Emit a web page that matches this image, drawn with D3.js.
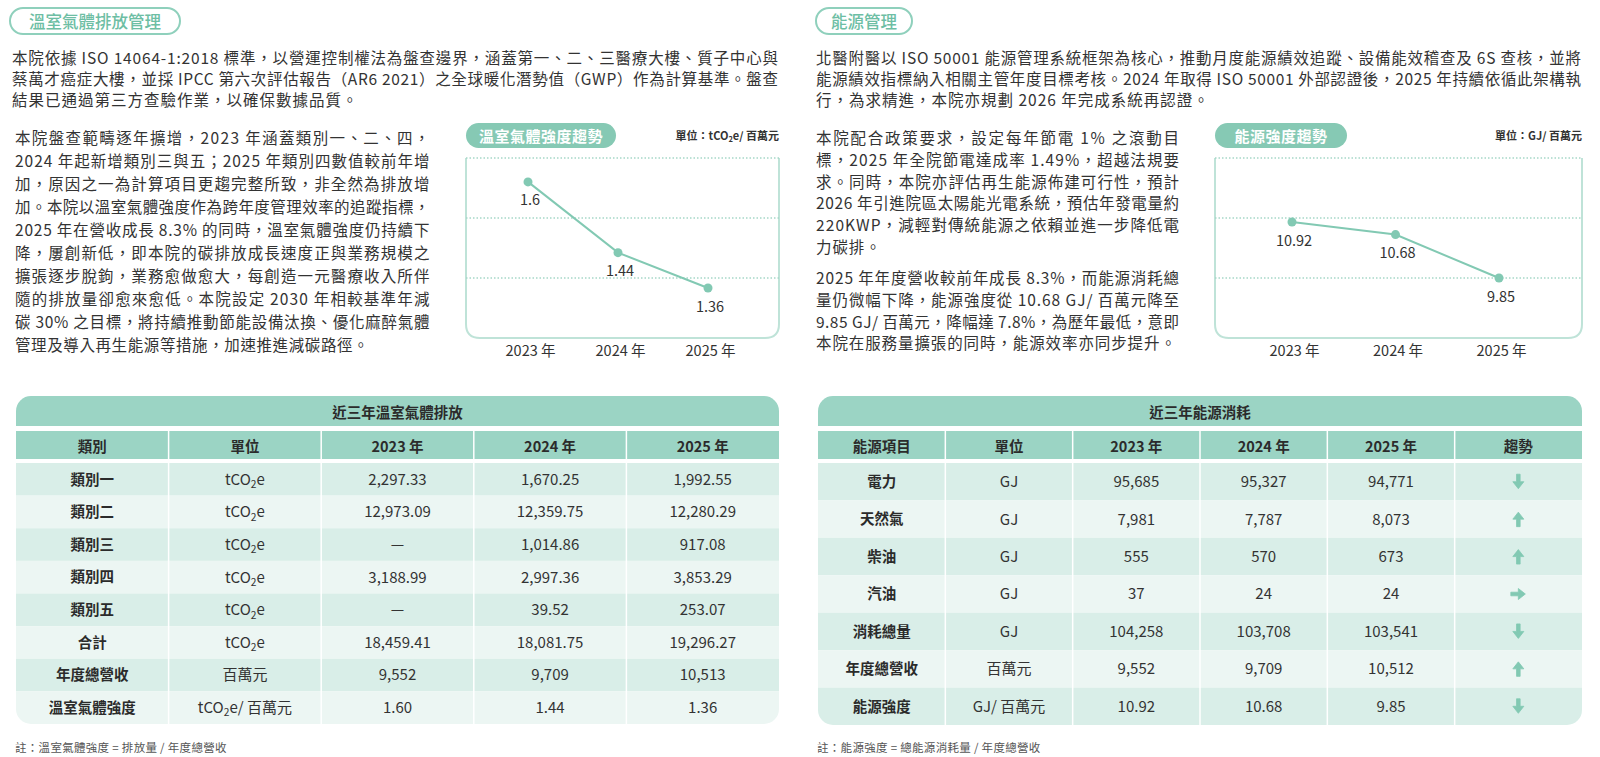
<!DOCTYPE html>
<html>
<head>
<meta charset="utf-8">
<script src="https://cdn.jsdelivr.net/npm/d3@7"></script>
<style>
  body { margin: 0; background: #fff; }
  svg { display: block; font-family: "Noto Sans CJK TC", "Noto Sans", sans-serif; }
</style>
</head>
<body>
<div id="page"></div>
<script>
// ---- data ----
const years = ["2023 年", "2024 年", "2025 年"];
const ghgIntensity = [1.6, 1.44, 1.36];
const energyIntensity = [10.92, 10.68, 9.85];

const ghgCols = ["類別", "單位", "2023 年", "2024 年", "2025 年"];
const ghgCats = ["類別一", "類別二", "類別三", "類別四", "類別五", "合計", "年度總營收", "溫室氣體強度"];
const ghgUnits = ["tCO₂e", "tCO₂e", "tCO₂e", "tCO₂e", "tCO₂e", "tCO₂e", "百萬元", "tCO₂e/ 百萬元"];
const ghg2023 = [2297.33, 12973.09, null, 3188.99, null, 18459.41, 9552, 1.60];
const ghg2024 = [1670.25, 12359.75, 1014.86, 2997.36, 39.52, 18081.75, 9709, 1.44];
const ghg2025 = [1992.55, 12280.29, 917.08, 3853.29, 253.07, 19296.27, 10513, 1.36];
const ghgFormats = [",.2f", ",.2f", ",.2f", ",.2f", ",.2f", ",.2f", ",", ".2f"];

const enCols = ["能源項目", "單位", "2023 年", "2024 年", "2025 年", "趨勢"];
const enItems = ["電力", "天然氣", "柴油", "汽油", "消耗總量", "年度總營收", "能源強度"];
const enUnits = ["GJ", "GJ", "GJ", "GJ", "GJ", "百萬元", "GJ/ 百萬元"];
const en2023 = [95685, 7981, 555, 37, 104258, 9552, 10.92];
const en2024 = [95327, 7787, 570, 24, 103708, 9709, 10.68];
const en2025 = [94771, 8073, 673, 24, 103541, 10512, 9.85];
const enFormats = [",", ",", ",", ",", ",", ",", ".2f"];

const leftIntro = [
  "本院依據 ISO 14064-1:2018 標準，以營運控制權法為盤查邊界，涵蓋第一、二、三醫療大樓、質子中心與",
  "蔡萬才癌症大樓，並採 IPCC 第六次評估報告（AR6 2021）之全球暖化潛勢值（GWP）作為計算基準。盤查",
  "結果已通過第三方查驗作業，以確保數據品質。"
];
const leftBody = [
  "本院盤查範疇逐年擴增，2023 年涵蓋類別一、二、四，",
  "2024 年起新增類別三與五；2025 年類別四數值較前年增",
  "加，原因之一為計算項目更趨完整所致，非全然為排放增",
  "加。本院以溫室氣體強度作為跨年度管理效率的追蹤指標，",
  "2025 年在營收成長 8.3% 的同時，溫室氣體強度仍持續下",
  "降，屢創新低，即本院的碳排放成長速度正與業務規模之",
  "擴張逐步脫鉤，業務愈做愈大，每創造一元醫療收入所伴",
  "隨的排放量卻愈來愈低。本院設定 2030 年相較基準年減",
  "碳 30% 之目標，將持續推動節能設備汰換、優化麻醉氣體",
  "管理及導入再生能源等措施，加速推進減碳路徑。"
];
const rightIntro = [
  "北醫附醫以 ISO 50001 能源管理系統框架為核心，推動月度能源績效追蹤、設備能效稽查及 6S 查核，並將",
  "能源績效指標納入相關主管年度目標考核。2024 年取得 ISO 50001 外部認證後，2025 年持續依循此架構執",
  "行，為求精進，本院亦規劃 2026 年完成系統再認證。"
];
const rightBodyA = [
  "本院配合政策要求，設定每年節電 1% 之滾動目",
  "標，2025 年全院節電達成率 1.49%，超越法規要",
  "求。同時，本院亦評估再生能源佈建可行性，預計",
  "2026 年引進院區太陽能光電系統，預估年發電量約",
  "220KWP，減輕對傳統能源之依賴並進一步降低電",
  "力碳排。"
];
const rightBodyB = [
  "2025 年年度營收較前年成長 8.3%，而能源消耗總",
  "量仍微幅下降，能源強度從 10.68 GJ/ 百萬元降至",
  "9.85 GJ/ 百萬元，降幅達 7.8%，為歷年最低，意即",
  "本院在服務量擴張的同時，能源效率亦同步提升。"
];

// ---- styles ----
const teal = "#82c9b3";
const tealHead = "#9bd4c4";
const rowDark = "#d9eee8";
const rowLight = "#ecf6f3";
const textColor = "#333";

const svg = d3.select("#page").append("svg")
    .attr("width", 1600)
    .attr("height", 757);

// text centred on cy, with CO₂ subscript support
function richText(sel, str, cy, size) {
  sel.attr("y", cy + size * 0.36);
  const parts = str.split("₂");
  parts.forEach((p, i) => {
    if (i > 0) {
      sel.append("tspan").attr("font-size", size * 0.68).attr("dy", size * 0.22).text("2");
      sel.append("tspan").attr("dy", -size * 0.22).text(p);
    } else {
      sel.append("tspan").text(p);
    }
  });
  return sel;
}

function headingPill(x, y, w, h, label) {
  const g = svg.append("g");
  g.append("rect")
      .attr("x", x).attr("y", y).attr("width", w).attr("height", h)
      .attr("rx", h / 2)
      .attr("fill", "#fff")
      .attr("stroke", "#8fd0bc")
      .attr("stroke-width", 2);
  g.append("text")
      .attr("x", x + w / 2).attr("y", y + h / 2)
      .attr("text-anchor", "middle")
      .attr("dominant-baseline", "central")
      .attr("font-size", 16.5)
      .attr("font-weight", 500)
      .attr("fill", "#6dbea4")
      .text(label);
}

function paragraph(lines, x0, x1, y0, lh, size, spacing) {
  const g = svg.append("g");
  lines.forEach((line, i) => {
    const t = g.append("text")
        .attr("x", x0)
        .attr("y", y0 + i * lh)
        .attr("dominant-baseline", "central")
        .attr("font-size", size)
        .attr("letter-spacing", spacing)
        .attr("fill", textColor)
        .text(line);
    if (i < lines.length - 1) {
      t.attr("textLength", x1 - x0).attr("lengthAdjust", "spacing");
    }
  });
}

headingPill(10, 8, 170, 26, "溫室氣體排放管理");
headingPill(816, 8, 96, 26, "能源管理");

paragraph(leftIntro, 12, 779, 57, 21, 15.5, 1);
paragraph(rightIntro, 816, 1582, 57, 21, 15.5, 1);
paragraph(leftBody, 15, 430, 137, 23, 15.5, 0.6);
paragraph(rightBodyA, 816, 1180, 137, 21.8, 15.5, 0.9);
paragraph(rightBodyB, 816, 1180, 277, 21.8, 15.5, 0.9);

// ---- trend charts ----
function trendChart(cfg) {
  const g = svg.append("g");
  const top = 158, bottom = 338, r = 14;

  // title pill
  g.append("rect")
      .attr("x", cfg.x0).attr("y", 123)
      .attr("width", cfg.pillW).attr("height", 25)
      .attr("rx", 12.5)
      .attr("fill", "#86c9b4");
  g.append("text")
      .attr("x", cfg.x0 + cfg.pillW / 2).attr("y", 135.5)
      .attr("text-anchor", "middle")
      .attr("dominant-baseline", "central")
      .attr("font-size", 15)
      .attr("font-weight", 700)
      .attr("letter-spacing", 0.5)
      .attr("fill", "#fff")
      .text(cfg.title);

  richText(g.append("text")
      .attr("x", cfg.x1)
      .attr("text-anchor", "end")
      .attr("font-size", 11)
      .attr("font-weight", 700)
      .attr("fill", textColor), cfg.unit, 136, 11);

  // frame: open top, rounded bottom
  g.append("path")
      .attr("d", `M${cfg.x0},${top} V${bottom - r} Q${cfg.x0},${bottom} ${cfg.x0 + r},${bottom} H${cfg.x1 - r} Q${cfg.x1},${bottom} ${cfg.x1},${bottom - r} V${top}`)
      .attr("fill", "none")
      .attr("stroke", "#bfe3d8")
      .attr("stroke-width", 2);

  // dotted grid
  const gridY = d3.range(3).map(i => top + i * (bottom - top) / 3);
  g.selectAll(".grid").data(gridY).enter().append("line")
      .attr("class", "grid")
      .attr("x1", cfg.x0).attr("x2", cfg.x1)
      .attr("y1", d => d).attr("y2", d => d)
      .attr("stroke", "#a6d8c8")
      .attr("stroke-width", 1.5)
      .attr("stroke-dasharray", "1.5,2");

  const x = d3.scalePoint().domain(years).range(cfg.xRange);
  const y = d3.scaleLinear().domain(cfg.yDomain).range([bottom, top]);

  const pts = years.map((yr, i) => ({ year: yr, value: cfg.values[i] }));

  g.append("path")
      .datum(pts)
      .attr("fill", "none")
      .attr("stroke", teal)
      .attr("stroke-width", 2)
      .attr("d", d3.line().x(d => x(d.year)).y(d => y(d.value)));

  g.selectAll(".pt").data(pts).enter().append("circle")
      .attr("class", "pt")
      .attr("cx", d => x(d.year))
      .attr("cy", d => y(d.value))
      .attr("r", 4.5)
      .attr("fill", teal);

  g.selectAll(".lbl").data(pts).enter().append("text")
      .attr("class", "lbl")
      .attr("x", d => x(d.year) + 2)
      .attr("y", d => y(d.value) + 17)
      .attr("text-anchor", "middle")
      .attr("dominant-baseline", "central")
      .attr("font-size", 14.5)
      .attr("fill", textColor)
      .text(d => cfg.labelFmt(d.value));

  const axis = d3.axisBottom(x).tickSize(0).tickPadding(0);
  const ax = g.append("g")
      .attr("transform", `translate(${cfg.xLabelShift},346)`)
      .call(axis);
  ax.select(".domain").remove();
  ax.selectAll("text")
      .attr("font-size", 14.5)
      .attr("font-family", "Noto Sans CJK TC, Noto Sans, sans-serif")
      .attr("fill", textColor);
}

trendChart({
  x0: 466, x1: 779, pillW: 150,
  title: "溫室氣體強度趨勢",
  unit: "單位：tCO₂e/ 百萬元",
  values: ghgIntensity,
  xRange: [528, 708],
  xLabelShift: 2,
  yDomain: [1.247, 1.654],
  labelFmt: d => String(d)
});

trendChart({
  x0: 1215, x1: 1582, pillW: 132,
  title: "能源強度趨勢",
  unit: "單位：GJ/ 百萬元",
  values: energyIntensity,
  xRange: [1292, 1499],
  xLabelShift: 2,
  yDomain: [8.703, 12.144],
  labelFmt: d => d3.format(".2f")(d)
});

// ---- tables ----
function dataTable(cfg) {
  const g = svg.append("g");
  const top = 396, bandH = 30, headTop = 431, headH = 28, rowTop = 463;
  const nRows = cfg.rows.length;

  const clipId = "clip-" + cfg.id;
  g.append("clipPath").attr("id", clipId)
    .append("rect")
      .attr("x", cfg.x0).attr("y", top)
      .attr("width", cfg.x1 - cfg.x0).attr("height", cfg.bottom - top)
      .attr("rx", 15);

  const body = g.append("g").attr("clip-path", `url(#${clipId})`);

  const xs = d3.scaleBand().domain(d3.range(cfg.cols.length)).range([cfg.x0, cfg.x1]);
  const ys = d3.scaleBand().domain(d3.range(nRows)).range([rowTop, cfg.bottom]);

  body.append("rect")
      .attr("x", cfg.x0).attr("y", top)
      .attr("width", cfg.x1 - cfg.x0).attr("height", bandH)
      .attr("fill", tealHead);
  body.append("rect")
      .attr("x", cfg.x0).attr("y", headTop)
      .attr("width", cfg.x1 - cfg.x0).attr("height", headH)
      .attr("fill", tealHead);

  body.selectAll(".row").data(cfg.rows).enter().append("rect")
      .attr("class", "row")
      .attr("x", cfg.x0)
      .attr("y", (d, i) => ys(i))
      .attr("width", cfg.x1 - cfg.x0)
      .attr("height", ys.bandwidth())
      .attr("fill", (d, i) => i % 2 === 0 ? rowDark : rowLight);

  // white column dividers
  body.selectAll(".div").data(d3.range(1, cfg.cols.length)).enter().append("line")
      .attr("class", "div")
      .attr("x1", d => xs(d)).attr("x2", d => xs(d))
      .attr("y1", headTop).attr("y2", cfg.bottom)
      .attr("stroke", "#fff")
      .attr("stroke-width", 1.5);

  g.append("text")
      .attr("x", (cfg.x0 + cfg.x1) / 2).attr("y", top + bandH / 2)
      .attr("text-anchor", "middle")
      .attr("dominant-baseline", "central")
      .attr("font-size", 14.5)
      .attr("font-weight", 700)
      .attr("fill", "#2b2b2b")
      .text(cfg.title);

  g.selectAll(".colh").data(cfg.cols).enter().append("text")
      .attr("class", "colh")
      .attr("x", (d, i) => xs(i) + xs.bandwidth() / 2)
      .attr("y", headTop + headH / 2)
      .attr("text-anchor", "middle")
      .attr("dominant-baseline", "central")
      .attr("font-size", 14.5)
      .attr("font-weight", 700)
      .attr("fill", "#2b2b2b")
      .text(d => d);

  cfg.rows.forEach((row, ri) => {
    const cy = ys(ri) + ys.bandwidth() / 2;
    row.forEach((cell, ci) => {
      if (cell === null || cell === undefined) return;
      if (cell.arrow) {
        const cx = xs(ci) + xs.bandwidth() / 2;
        const rot = cell.arrow === "down" ? 0 : cell.arrow === "up" ? 180 : -90;
        g.append("path")
            .attr("transform", `translate(${cx},${cy}) rotate(${rot})`)
            .attr("d", "M-1.8,-7.5 H1.8 V0 H5.5 L0,7 L-5.5,0 H-1.8 Z")
            .attr("fill", teal)
            .attr("stroke", teal)
            .attr("stroke-width", 0.8)
            .attr("stroke-linejoin", "round");
        return;
      }
      const size = ci === 0 ? 14.5 : 15;
      richText(g.append("text")
          .attr("x", xs(ci) + xs.bandwidth() / 2)
          .attr("text-anchor", "middle")
          .attr("font-size", size)
          .attr("font-weight", ci === 0 ? 700 : 400)
          .attr("fill", ci === 0 ? "#2b2b2b" : textColor), cell, cy, size);
    });
  });

  g.append("text")
      .attr("x", cfg.x0 - 1).attr("y", 747)
      .attr("dominant-baseline", "central")
      .attr("font-size", 11.5)
      .attr("letter-spacing", 0.3)
      .attr("fill", "#555")
      .text(cfg.note);
}

const fmtVal = (v, f) => v === null ? "—" : d3.format(f)(v);

dataTable({
  id: "ghg",
  x0: 16, x1: 779, bottom: 724,
  title: "近三年溫室氣體排放",
  cols: ghgCols,
  rows: ghgCats.map((c, i) => [
    c, ghgUnits[i],
    fmtVal(ghg2023[i], ghgFormats[i]),
    fmtVal(ghg2024[i], ghgFormats[i]),
    fmtVal(ghg2025[i], ghgFormats[i])
  ]),
  note: "註：溫室氣體強度 = 排放量 / 年度總營收"
});

function trendOf(prev, cur) {
  return cur > prev ? "up" : cur < prev ? "down" : "flat";
}

dataTable({
  id: "energy",
  x0: 818, x1: 1582, bottom: 725,
  title: "近三年能源消耗",
  cols: enCols,
  rows: enItems.map((c, i) => [
    c, enUnits[i],
    fmtVal(en2023[i], enFormats[i]),
    fmtVal(en2024[i], enFormats[i]),
    fmtVal(en2025[i], enFormats[i]),
    { arrow: trendOf(en2024[i], en2025[i]) }
  ]),
  note: "註：能源強度 = 總能源消耗量 / 年度總營收"
});
</script>
</body>
</html>
